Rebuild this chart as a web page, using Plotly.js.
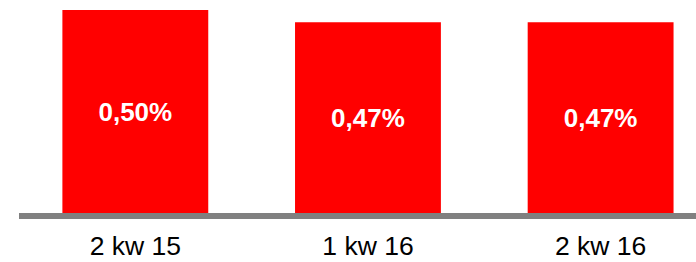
<!DOCTYPE html>
<html>
<head>
<meta charset="utf-8">
<script src="https://cdn.plot.ly/plotly-3.0.1.min.js"></script>
<style>
html, body { margin: 0; padding: 0; background: #fff; overflow: hidden; }
#chart { width: 696px; height: 262px; }
</style>
</head>
<body>
<div id="chart"></div>
<script>
const categories = ["2 kw 15", "1 kw 16", "2 kw 16"];
const values = [0.50, 0.47, 0.47];
const valueLabels = ["0,50%", "0,47%", "0,47%"];

const trace = {
  type: "bar",
  x: categories,
  y: values,
  text: valueLabels,
  textposition: "inside",
  insidetextanchor: "middle",
  textangle: 0,
  texttemplate: "<b>%{text}</b>",
  textfont: { family: "Arial, 'Liberation Sans', sans-serif", size: 26, color: "#ffffff" },
  marker: { color: "#ff0000", line: { width: 0 } },
  hoverinfo: "none"
};

const layout = {
  width: 696,
  height: 262,
  margin: { l: 19, r: 0, t: 10, b: 49 },
  paper_bgcolor: "#ffffff",
  plot_bgcolor: "#ffffff",
  showlegend: false,
  bargap: 0.373,
  font: { family: "Arial, 'Liberation Sans', sans-serif", size: 26, color: "#000000" },
  xaxis: {
    type: "category",
    range: [-0.5, 2.41],
    showline: true,
    linewidth: 6,
    linecolor: "#808080",
    ticks: "",
    ticklabelstandoff: 4,
    showgrid: false,
    zeroline: false,
    tickfont: { family: "Arial, 'Liberation Sans', sans-serif", size: 26.5, color: "#000000" },
    fixedrange: true
  },
  yaxis: {
    range: [0, 0.5],
    showline: false,
    showgrid: false,
    zeroline: false,
    showticklabels: false,
    ticks: "",
    fixedrange: true
  }
};

Plotly.newPlot("chart", [trace], layout, { staticPlot: true, displayModeBar: false });
</script>
</body>
</html>
